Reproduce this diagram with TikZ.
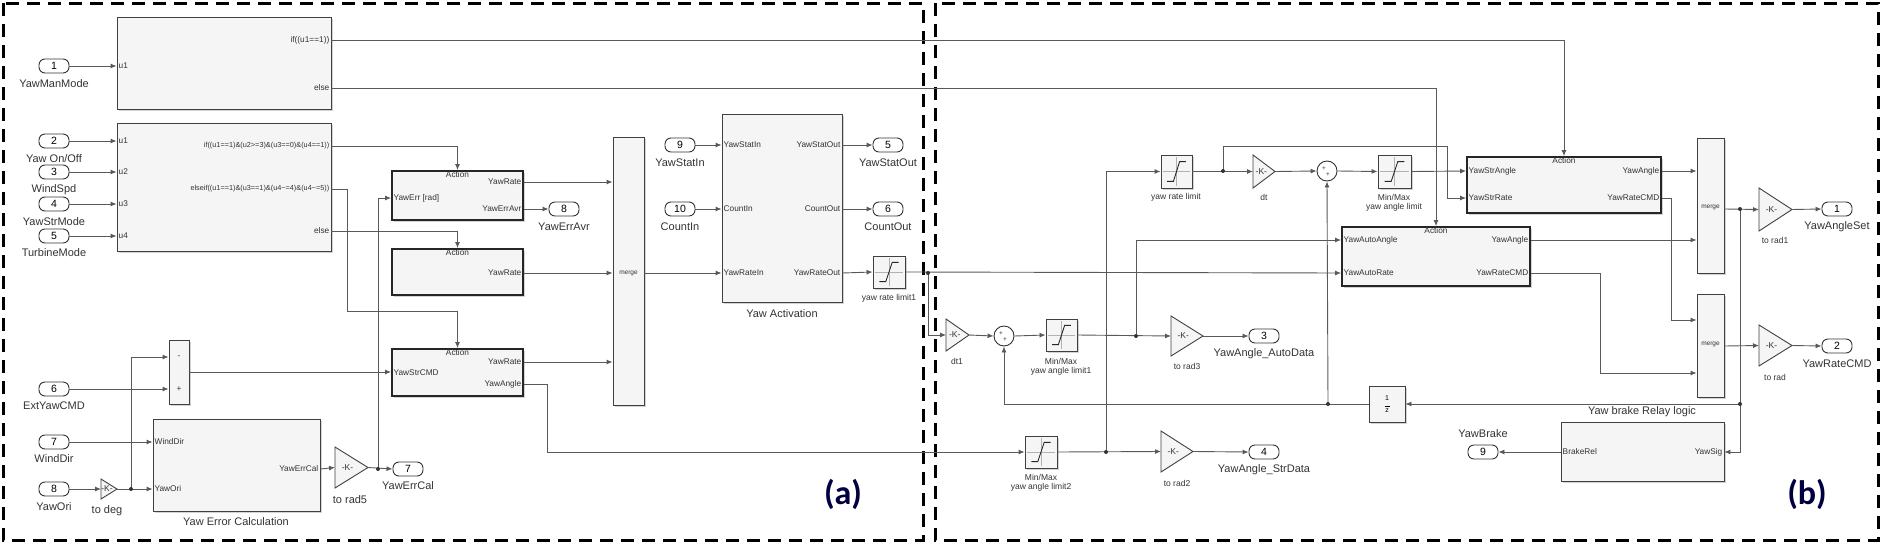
\documentclass[tikz,border=0pt]{standalone}
\usepackage{fontspec}
\setmainfont{Liberation Sans}
\newfontfamily\labfont{Carlito}
\usetikzlibrary{arrows.meta,shadows,calc}
\tikzset{
 wire/.style={draw=black!65, line width=0.9pt},
 arr/.style={wire,-{Latex[length=6pt,width=5pt]}},
 blk/.style={draw=black!75, fill=black!4, line width=0.9pt, rectangle, inner sep=0pt,
   drop shadow={shadow xshift=1.5pt,shadow yshift=-1.5pt,opacity=.35}},
 actblk/.style={line width=1.8pt, draw=black!85},
 port/.style={draw=black!80, line width=0.9pt, rounded corners=6pt, minimum width=30pt, minimum height=14pt, inner sep=0pt, font=\fontsize{10.5}{10}\selectfont, fill=white},
 plab/.style={font=\fontsize{11}{12}\selectfont, text=black!80},
 itxt/.style={font=\fontsize{8.3}{9}\selectfont, text=black!80, inner sep=1.5pt},
 ctxt/.style={font=\fontsize{7.3}{8}\selectfont, text=black!80, inner sep=1.5pt},
 stxt/.style={font=\fontsize{8.5}{9.5}\selectfont, text=black!80, inner sep=0pt},
 dot/.style={fill=black!80},
 frame/.style={line width=3pt, dash pattern=on 13pt off 8pt}
}
\newcommand\mkblk[6][]{\node[blk,#1,minimum width={(#5)-(#3)}, minimum height={(#6)-(#4)}] (#2) at ({((#3)+(#5))/2},{((#4)+(#6))/2}) {};}
\newcommand\mksat[5]{\mkblk{#1}{#2}{#3}{#4}{#5}%
 \pgfmathsetmacro\sxa{#2+0.2*(#4-#2)}\pgfmathsetmacro\sxb{#2+0.4*(#4-#2)}%
 \pgfmathsetmacro\sxc{#2+0.6*(#4-#2)}\pgfmathsetmacro\sxd{#2+0.8*(#4-#2)}%
 \pgfmathsetmacro\sxm{#2+0.5*(#4-#2)}%
 \pgfmathsetmacro\sya{#3+0.2*(#5-#3)}\pgfmathsetmacro\syb{#3+0.8*(#5-#3)}\pgfmathsetmacro\sym{#3+0.5*(#5-#3)}%
 \draw[black!30,thin] (\sxm,#3+2) -- (\sxm,#5-2) (#2+2,\sym) -- (#4-2,\sym);
 \draw[black!85,line width=0.9pt] (\sxa,\syb) -- (\sxb,\syb) -- (\sxc,\sya) -- (\sxd,\sya);}
\newcommand\mkgain[5]{\pgfmathsetmacro\gy{(#3+#5)/2}%
 \draw[draw=black!75,fill=black!4,line width=0.9pt] (#2,#3) -- (#4,\gy) -- (#2,#5) -- cycle;
 \coordinate (#1-in) at (#2,\gy); \coordinate (#1-out) at (#4,\gy);
 \node[stxt] at ({#2+0.38*(#4-#2)},\gy) {-K-};}
\begin{document}
\begin{tikzpicture}[x=1pt,y=-1pt]
\useasboundingbox (0,0) rectangle (1891,544);
% frames
\draw[frame] (3,3) rectangle (923,540);
\draw[frame] (935,3) rectangle (1878,540);
\node[font=\labfont\bfseries\fontsize{34}{34}\selectfont, text=blue!25!black] at (843,494) {(a)};
\node[font=\labfont\bfseries\fontsize{34}{34}\selectfont, text=blue!25!black] at (1807,494) {(b)};

% ---------- blocks (a)
\mkblk{if1}{117}{17}{331}{109}
\mkblk{if2}{117}{123}{331}{251}
\mkblk[actblk]{A1}{392}{171}{523}{220}
\mkblk[actblk]{A2}{392}{249}{523}{295}
\mkblk[actblk]{A3}{392}{349}{523}{396}
\mkblk{sumA}{169}{340}{189}{404}
\mkblk{YEC}{153}{419}{320}{511}
\mkblk{mg0}{613}{137}{644}{405}
\mkblk{YA}{722}{114}{842}{302}
\mksat{rl1}{873}{256}{905}{288}
\mkgain{todeg}{101}{479}{117}{499}
\mkgain{tr5}{335}{447}{368}{488}

% ---------- blocks (b)
\mkblk[actblk]{Str}{1467}{157}{1661}{213}
\mkblk[actblk]{Auto}{1342}{227}{1530}{286}
\mkblk{mg1}{1697}{138}{1724}{273}
\mkblk{mg2}{1697}{294}{1724}{397}
\mkblk{dly}{1369}{386}{1405}{422}
\mkblk{relay}{1561}{422}{1724}{481}
\mksat{al1}{1046}{319}{1077}{351}
\mksat{al2}{1025}{436}{1057}{468}
\mksat{rlim}{1161}{155}{1192}{188}
\mksat{alim}{1378}{155}{1411}{188}
\mkgain{dt1}{946}{319}{969}{351}
\mkgain{tr3}{1171}{316}{1203}{356}
\mkgain{tr2}{1161}{431}{1193}{472}
\mkgain{dt}{1253}{155}{1275}{188}
\mkgain{tr1}{1759}{188}{1792}{231}
\mkgain{tr}{1759}{325}{1792}{366}
\node[draw=black!80,fill=white,line width=0.9pt,circle,minimum size=20pt,inner sep=0pt] (s1) at (1004,336) {};
\node[draw=black!80,fill=white,line width=0.9pt,circle,minimum size=20pt,inner sep=0pt] (s2) at (1327,171) {};
\foreach \s in {s1,s2}{\node[stxt,font=\fontsize{6.5}{6}\selectfont] at ($(\s)+(-3,-2)$) {+};\node[stxt,font=\fontsize{6.5}{6}\selectfont] at ($(\s)+(1,4)$) {+};}

% ---------- ports
\node[port] (i1) at (54,66) {1};   \node[plab] at (54,84) {YawManMode};
\node[port] (i2) at (54,141) {2};  \node[plab] at (54,159) {Yaw On/Off};
\node[port] (i3) at (54,172) {3};  \node[plab] at (54,190) {WindSpd};
\node[port] (i4) at (54,204) {4};  \node[plab] at (54,222) {YawStrMode};
\node[port] (i5) at (54,236) {5};  \node[plab] at (54,253) {TurbineMode};
\node[port] (i6) at (54,389) {6};  \node[plab] at (54,406) {ExtYawCMD};
\node[port] (i7) at (54,442) {7};  \node[plab] at (54,459) {WindDir};
\node[port] (i8) at (54,489) {8};  \node[plab] at (54,507) {YawOri};
\node[port] (o8) at (564,209) {8}; \node[plab] at (564,227) {YawErrAvr};
\node[port] (o7) at (408,469) {7}; \node[plab] at (408,486) {YawErrCal};
\node[port] (i9) at (680,145) {9}; \node[plab] at (680,163) {YawStatIn};
\node[port] (i10) at (680,209) {10}; \node[plab] at (680,227) {CountIn};
\node[port] (o5) at (888,145) {5}; \node[plab] at (888,163) {YawStatOut};
\node[port] (o6) at (888,209) {6}; \node[plab] at (888,227) {CountOut};
\node[port] (o3) at (1264,336) {3}; \node[plab] at (1264,354) {YawAngle\_AutoData};
\node[port] (o4) at (1264,452) {4}; \node[plab] at (1264,470) {YawAngle\_StrData};
\node[port] (o1) at (1837,209) {1}; \node[plab] at (1837,227) {YawAngleSet};
\node[port] (o2) at (1837,346) {2}; \node[plab] at (1837,364) {YawRateCMD};
\node[port] (o9) at (1483,452) {9}; \node[plab] at (1483,434) {YawBrake};

% ---------- block texts
\node[itxt,anchor=west] at (117,66) {u1};
\node[itxt,anchor=east] at (331,40) {if((u1==1))};
\node[itxt,anchor=east] at (331,88) {else};
\foreach \y/\t in {141/u1,172/u2,204/u3,236/u4}{\node[itxt,anchor=west] at (117,\y) {\t};}
\node[ctxt,anchor=east] at (331,146) {if((u1==1)\&(u2>=3)\&(u3==0)\&(u4==1))};
\node[ctxt,anchor=east] at (331,189) {elseif((u1==1)\&(u3==1)\&(u4\textasciitilde=4)\&(u4\textasciitilde=5))};
\node[itxt,anchor=east] at (331,231) {else};
\foreach \b in {A1,A2,A3}{\node[itxt,anchor=north] at (\b.north) {Action};}
\node[itxt,anchor=west] at (392,198) {YawErr [rad]};
\node[itxt,anchor=east] at (523,182) {YawRate};
\node[itxt,anchor=east] at (523,209) {YawErrAvr};
\node[itxt,anchor=east] at (523,273) {YawRate};
\node[itxt,anchor=west] at (392,373) {YawStrCMD};
\node[itxt,anchor=east] at (523,362) {YawRate};
\node[itxt,anchor=east] at (523,384) {YawAngle};
\node[itxt] at (179,357) {-};
\node[itxt] at (179,389) {+};
\node[itxt,anchor=west] at (153,442) {WindDir};
\node[itxt,anchor=west] at (153,489) {YawOri};
\node[itxt,anchor=east] at (320,469) {YawErrCal};
\node[plab] at (236,522) {Yaw Error Calculation};
\node[plab] at (107,511) {to deg};
\node[plab] at (350,500) {to rad5};
\node[itxt,font=\fontsize{6.5}{7}\selectfont] at (628.5,273) {merge};
\node[itxt,anchor=west] at (722,145) {YawStatIn};
\node[itxt,anchor=west] at (722,209) {CountIn};
\node[itxt,anchor=west] at (722,273) {YawRateIn};
\node[itxt,anchor=east] at (842,145) {YawStatOut};
\node[itxt,anchor=east] at (842,209) {CountOut};
\node[itxt,anchor=east] at (842,273) {YawRateOut};
\node[plab] at (782,314) {Yaw Activation};
\node[stxt] at (889,298) {yaw rate limit1};
\node[stxt] at (957,361) {dt1};
\node[stxt,align=center] at (1061,367) {Min/Max\\yaw angle limit1};
\node[stxt,align=center] at (1041,483) {Min/Max\\yaw angle limit2};
\node[stxt] at (1187,366) {to rad3};
\node[stxt] at (1177,483) {to rad2};
\node[stxt] at (1176,197) {yaw rate limit};
\node[stxt] at (1264,197) {dt};
\node[stxt,align=center] at (1394,203) {Min/Max\\yaw angle limit};
\foreach \b in {Str,Auto}{\node[itxt,anchor=north] at (\b.north) {Action};}
\node[itxt,anchor=west] at (1467,171) {YawStrAngle};
\node[itxt,anchor=west] at (1467,198) {YawStrRate};
\node[itxt,anchor=east] at (1661,171) {YawAngle};
\node[itxt,anchor=east] at (1661,198) {YawRateCMD};
\node[itxt,anchor=west] at (1342,240) {YawAutoAngle};
\node[itxt,anchor=west] at (1342,273) {YawAutoRate};
\node[itxt,anchor=east] at (1530,240) {YawAngle};
\node[itxt,anchor=east] at (1530,273) {YawRateCMD};
\node[itxt,font=\fontsize{6.5}{7}\selectfont] at (1710.5,207) {merge};
\node[itxt,font=\fontsize{6.5}{7}\selectfont] at (1710.5,344) {merge};
\node[stxt] at (1775,240) {to rad1};
\node[stxt] at (1775,377) {to rad};
\node[font=\fontsize{7}{7}\selectfont,align=center,inner sep=0pt] at (dly) {1\\[-1pt]\rule{5pt}{0.5pt}\\[-1pt]z};
\node[plab] at (1642,412) {Yaw brake Relay logic};
\node[itxt,anchor=west] at (1561,452) {BrakeRel};
\node[itxt,anchor=east] at (1724,452) {YawSig};

% ---------- wires (a)
\foreach \p in {i1,i2,i3,i4,i5}{\draw[arr] (\p.east) -- (\p.east -| if1.west);}
\draw[arr] (if1.east |- 0,40) -| (Str.north);
\draw[arr] (if1.east |- 0,88) -| (Auto.north);
\draw[arr] (if2.east |- 0,146) -| (A1.north);
\draw[arr] (if2.east |- 0,189) -- (347,189) -- (347,311) -| (A3.north);
\draw[arr] (if2.east |- 0,231) -| (A2.north);
\draw[arr] (i6.east) -- (i6.east -| sumA.west);
\draw[arr] (i7.east) -- (i7.east -| YEC.west);
\draw[arr] (i8.east) -- (todeg-in);
\draw[arr] (todeg-out) -- (todeg-out -| YEC.west);
\coordinate (b1) at (131,489);
\draw[arr] (b1) |- (sumA.west |- 0,357);
\draw[arr] (sumA.east) -- (sumA.east -| A3.west);
\draw[arr] (YEC.east |- 0,469) -- (tr5-in);
\draw[arr] (tr5-out) -- (o7.west);
\coordinate (b2) at (378,469);
\draw[arr] (b2) |- (A1.west |- 0,198);
\draw[arr] (A1.east |- 0,182) -- (mg0.west |- 0,182);
\draw[arr] (A1.east |- 0,209) -- (o8.west);
\draw[arr] (A2.east |- 0,273) -- (mg0.west |- 0,273);
\draw[arr] (A3.east |- 0,362) -- (mg0.west |- 0,362);
\draw[arr] (A3.east |- 0,384) -- (547,384) |- (al2.west);
\draw[arr] (mg0.east |- 0,273) -- (YA.west |- 0,273);
\draw[arr] (i9.east) -- (i9.east -| YA.west);
\draw[arr] (i10.east) -- (i10.east -| YA.west);
\draw[arr] (YA.east |- 0,145) -- (o5.west);
\draw[arr] (YA.east |- 0,209) -- (o6.west);
\draw[arr] (YA.east |- 0,273) -- (rl1.west);
% ---------- wires (b)
\draw[arr] (rl1.east) -- (Auto.west |- 0,273);
\coordinate (b3) at (928,273);
\draw[arr] (b3) |- (dt1-in);
\draw[arr] (dt1-out) -- (s1.west);
\draw[arr] (s1.east) -- (al1.west);
\draw[arr] (al1.east) -- (tr3-in);
\draw[arr] (tr3-out) -- (o3.west);
\coordinate (b4) at (1136,336);
\draw[arr] (b4) |- (Auto.west |- 0,240);
\draw[arr] (al2.east) -- (tr2-in);
\draw[arr] (tr2-out) -- (o4.west);
\coordinate (b5) at (1106,452);
\draw[arr] (b5) |- (rlim.west);
\draw[arr] (rlim.east) -- (dt-in);
\coordinate (b6) at (1223,171);
\draw[arr] (b6) |- (1447,146) |- (Str.west |- 0,198);
\draw[arr] (dt-out) -- (s2.west);
\draw[arr] (s2.east) -- (alim.west);
\draw[arr] (alim.east) -- (Str.west |- 0,171);
\draw[arr] (Str.east |- 0,171) -- (mg1.west |- 0,171);
\draw[arr] (Auto.east |- 0,240) -- (mg1.west |- 0,240);
\draw[arr] (Str.east |- 0,198) -- (1671,198) |- (mg2.west |- 0,320);
\draw[arr] (Auto.east |- 0,273) -- (1600,273) |- (mg2.west |- 0,373);
\draw[arr] (mg1.east |- 0,209) -- (tr1-in);
\draw[arr] (tr1-out) -- (o1.west);
\draw[arr] (mg2.east |- 0,346) -- (tr-in);
\draw[arr] (tr-out) -- (o2.west);
\coordinate (b7) at (1740,209);
\coordinate (b8) at (1740,404);
\draw[arr] (b7) |- (relay.east |- 0,452);
\draw[arr] (b8) -- (dly.east);
\draw[arr] (dly.west) -| (s1.south);
\coordinate (b9) at (1328,404);
\draw[arr] (b9) -- (s2.south);
\draw[arr] (relay.west |- 0,452) -- (o9.east);
\foreach \c in {b1,b2,b3,b4,b5,b6,b7,b8,b9}{\fill[dot] (\c) circle (2pt);}
\end{tikzpicture}
\end{document}
